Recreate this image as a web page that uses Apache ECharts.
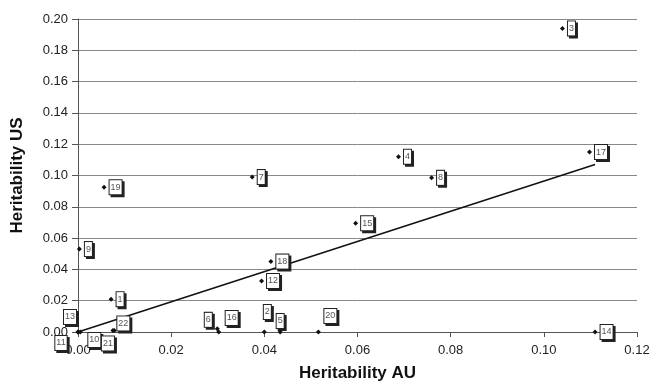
<!DOCTYPE html>
<html>
<head>
<meta charset="utf-8">
<script src="https://cdn.jsdelivr.net/npm/echarts@6/dist/echarts.min.js"></script>
<style>
html,body{margin:0;padding:0;background:#fff;}
#c{width:659px;height:387px;}
</style>
</head>
<body>
<div id="c"></div>
<script>
// ---- data ----
const ids = [1,2,3,4,5,6,7,8,9,10,11,12,13,14,15,16,17,18,19,20,21,22];
const heritAU = [0.0071,0.0400,0.1040,0.0688,0.0434,0.0299,0.0374,0.0759,0.0003,0.0005,0.0000,0.0394,0.0000,0.1110,0.0596,0.0302,0.1098,0.0414,0.0056,0.0516,0.0075,0.0078];
const heritUS = [0.0210,0.0000,0.1940,0.1120,0.0000,0.0020,0.0990,0.0985,0.0530,0.0000,0.0000,0.0326,0.0000,0.0000,0.0695,0.0000,0.1150,0.0450,0.0925,0.0000,0.0010,0.0010];
const trendAU = [0.0, 0.111];
const trendUS = [0.0, 0.107];
const xTicks = [0, 0.02, 0.04, 0.06, 0.08, 0.10, 0.12];
const yTicks = [0, 0.02, 0.04, 0.06, 0.08, 0.10, 0.12, 0.14, 0.16, 0.18, 0.20];

// ---- label placement (style only) ----
const labelShift = {13:[-8,-15],11:[-17,11],10:[14,8],21:[-5,13],22:[9,-7],6:[-9,-9],16:[13,-14],2:[3,-20],5:[0,-11],20:[12,-16]};
const SH = 2; // drop-shadow offset of the label boxes

const font = 'Liberation Sans, Arial, sans-serif';
function boxStyle(shadow) {
  return {
    show: true,
    opacity: 1,
    fontFamily: font,
    fontSize: 9,
    color: shadow ? 'rgba(0,0,0,0)' : '#555',
    backgroundColor: shadow ? '#222' : '#ffffff',
    borderColor: shadow ? '#222' : '#222',
    borderWidth: 1,
    padding: [3, 1, 2, 1]
  };
}
function makePoints(shadow) {
  return ids.map((id, i) => {
    const item = { value: [heritAU[i], heritUS[i]], name: String(id) };
    const d = shadow ? SH : 0;
    if (labelShift[id]) {
      item.label = Object.assign(boxStyle(shadow), { position: 'inside', offset: [labelShift[id][0] + d, labelShift[id][1] + d] });
    }
    return item;
  });
}

const chart = echarts.init(document.getElementById('c'), null, {renderer: 'canvas'});
chart.setOption({
  animation: false,
  backgroundColor: '#fff',
  grid: { left: 78, right: 22, top: 19, bottom: 55 },
  xAxis: {
    type: 'value', min: xTicks[0], max: xTicks[xTicks.length-1], interval: 0.02,
    name: 'Heritability AU', nameLocation: 'middle', nameGap: 33,
    nameTextStyle: { fontFamily: font, fontWeight: 'bold', fontSize: 17, color: '#111' },
    axisLine: { show: true, onZero: false, lineStyle: { color: '#555', width: 1 } },
    axisTick: { show: true, length: 5, inside: false, lineStyle: { color: '#555' } },
    axisLabel: { fontFamily: font, fontSize: 13, color: '#222', margin: 12, formatter: v => v.toFixed(2) },
    splitLine: { show: false }
  },
  yAxis: {
    type: 'value', min: yTicks[0], max: yTicks[yTicks.length-1], interval: 0.02,
    name: 'Heritability US', nameLocation: 'middle', nameGap: 52,
    nameTextStyle: { fontFamily: font, fontWeight: 'bold', fontSize: 17, color: '#111' },
    axisLine: { show: true, onZero: false, lineStyle: { color: '#555', width: 1 } },
    axisTick: { show: true, length: 6, inside: false, lineStyle: { color: '#555' } },
    axisLabel: { fontFamily: font, fontSize: 13, color: '#222', margin: 10, formatter: v => v.toFixed(2) },
    splitLine: { show: true, lineStyle: { color: '#888', width: 1 } }
  },
  series: [
    {
      type: 'line',
      data: trendAU.map((x, i) => [x, trendUS[i]]),
      symbol: 'none',
      lineStyle: { color: '#111', width: 1.5 },
      silent: true,
      z: 2
    },
    {
      type: 'scatter',
      data: makePoints(true),
      symbol: 'diamond',
      symbolSize: 5,
      itemStyle: { color: 'rgba(0,0,0,0)', opacity: 1 },
      label: Object.assign(boxStyle(true), { position: 'right', distance: 3, offset: [SH, SH], formatter: p => p.name }),
      silent: true,
      z: 3
    },
    {
      type: 'scatter',
      data: makePoints(false),
      symbol: 'diamond',
      symbolSize: 5,
      itemStyle: { color: '#111', opacity: 1 },
      label: Object.assign(boxStyle(false), { position: 'right', distance: 3, formatter: p => p.name }),
      z: 4
    }
  ]
});
</script>
</body>
</html>
